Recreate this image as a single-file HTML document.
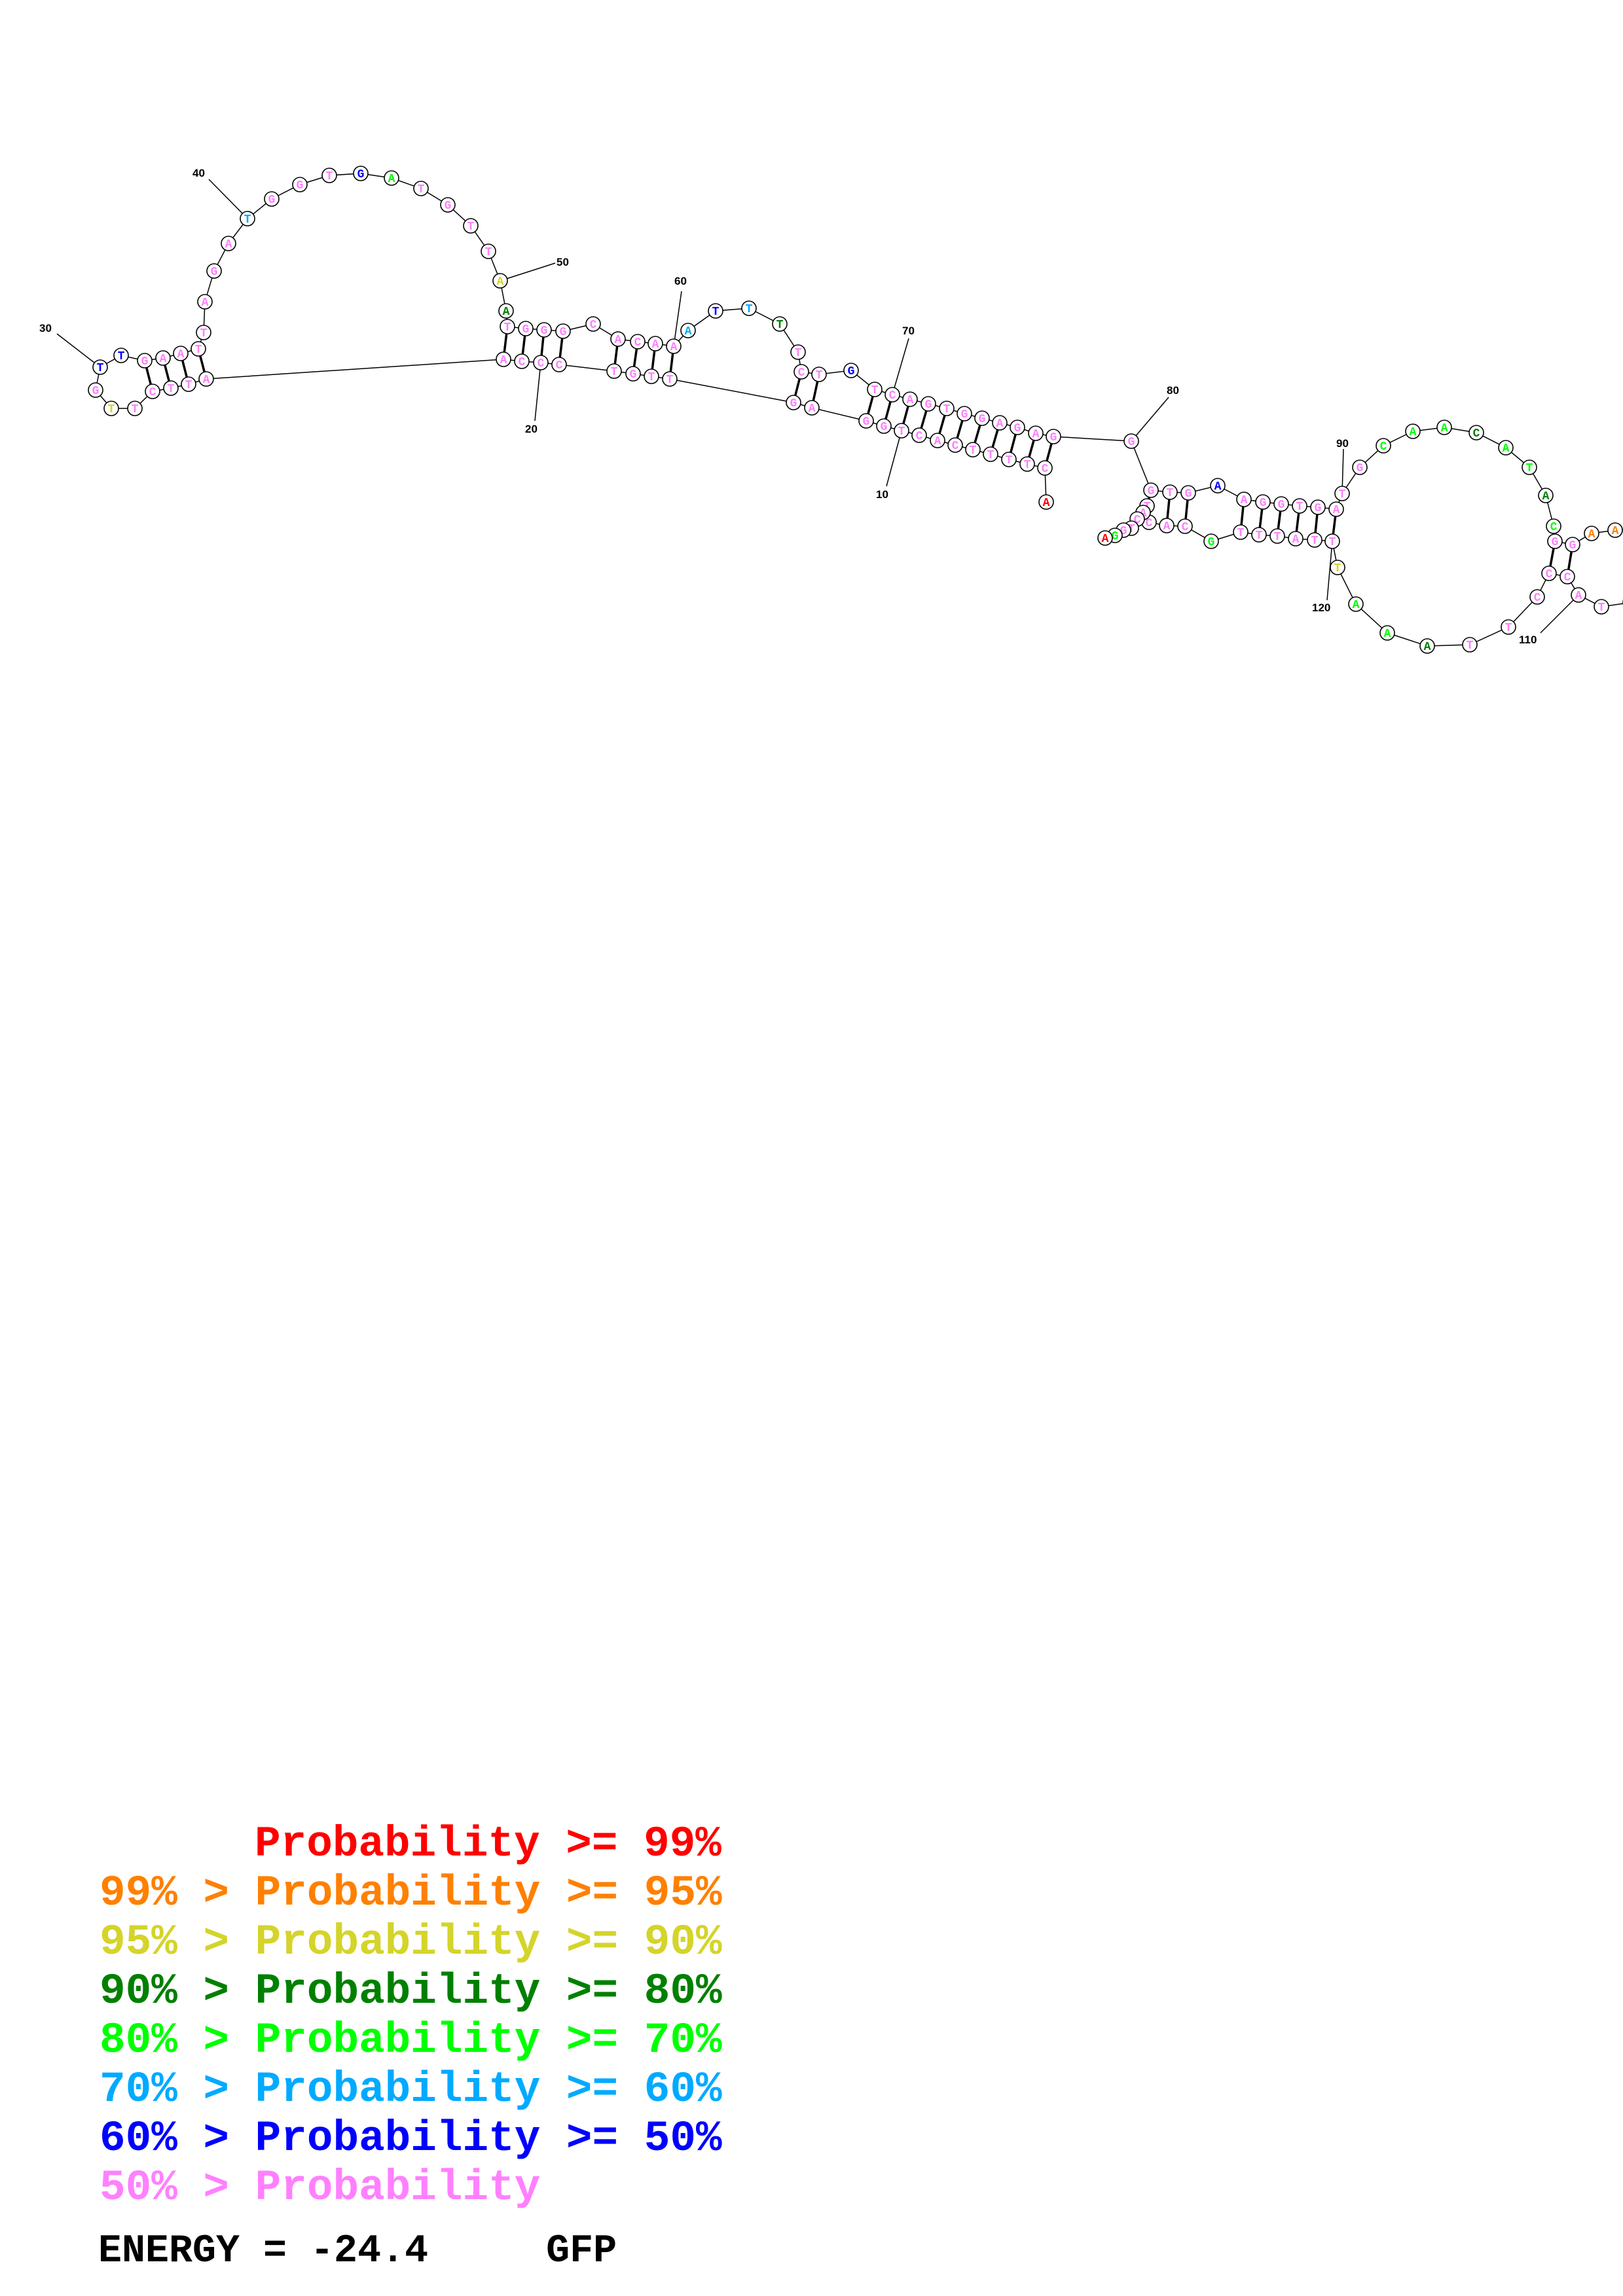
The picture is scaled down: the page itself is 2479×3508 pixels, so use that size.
<!DOCTYPE html>
<html><head><meta charset="utf-8"><style>
html,body{margin:0;padding:0;background:#fff;}
svg{display:block}
.n circle{fill:#fff;stroke:#000;stroke-width:1.6}
.t text{font-family:"Liberation Mono",monospace;font-weight:bold;font-size:18px;text-anchor:middle}
.p{fill:#ff80ff}.r{fill:#ff0000}.o{fill:#ff8000}.y{fill:#d4d42a}.dg{fill:#008000}.lg{fill:#00ff00}.lb{fill:#00aaff}.b{fill:#0000ff}
.lbl{font-family:"Liberation Sans",sans-serif;font-weight:bold;font-size:17px;fill:#000}
.leg{font-family:"Liberation Mono",monospace;font-weight:bold;font-size:66px;white-space:pre}
</style></head><body>
<svg width="2479" height="3508" viewBox="0 0 2479 3508" xmlns="http://www.w3.org/2000/svg">
<g fill="none" stroke="#000" stroke-width="1.5">
<polyline points="1598,767 1596,715 1569,709 1541,702 1513,694 1486,687 1459,680 1432,673 1404,665 1377,658 1350,651 1323,643 1240,623 1212,615 1023,579 995,575 967,571 938,567 854,557 826,554 797,552 769,549 315,579 288,587 261,593 233,598 206,624 170,624 146,596 153,561 185,543 221,551 249,547 276,540 303,533 311,508 313,461 327,414 349,372 378,334 415,304 458,282 503,268 551,265 598,272 643,288 684,313 719,345 746,384 764,429 773,475 775,499 803,502 831,504 860,506 906,495 944,518 974,522 1001,525 1029,529 1051,505 1093,475 1144,471 1191,495 1219,538 1224,568 1251,572 1300,566 1336,595 1363,603 1390,610 1418,617 1446,624 1473,632 1500,639 1527,646 1554,653 1582,662 1609,667 1728,674 1758,749 1787,752 1815,753 1860,742 1900,763 1929,767 1957,770 1985,773 2013,775 2041,778 2050,754 2077,714 2113,681 2158,659 2206,653 2255,661 2300,684 2336,714 2361,757 2373,804 2375,827 2402,832 2431,815 2467,810 2495,808"/>
<polyline points="2495,920 2446,927 2411,909 2394,881 2366,876 2348,912 2304,958 2245,985 2180,987 2119,967 2071,923 2043,867 2035,827 2008,825 1979,823 1951,819 1923,817 1895,813 1850,827 1810,804 1782,803 1755,798 1752,773 1746,783 1737,793 1728,807 1716,810 1703,818 1688,822"/>
<line x1="87" y1="510" x2="153" y2="561"/>
<line x1="319" y1="274" x2="378" y2="334"/>
<line x1="848" y1="402" x2="764" y2="429"/>
<line x1="817" y1="643" x2="826" y2="554"/>
<line x1="1041" y1="445" x2="1029" y2="529"/>
<line x1="1388" y1="517" x2="1363" y2="603"/>
<line x1="1354" y1="743" x2="1377" y2="658"/>
<line x1="1785" y1="607" x2="1728" y2="674"/>
<line x1="2052" y1="686" x2="2050" y2="754"/>
<line x1="2027" y1="917" x2="2035" y2="827"/>
<line x1="2353" y1="967" x2="2411" y2="909"/>
</g>
<g stroke="#000" stroke-width="3.5">
<line x1="1596" y1="715" x2="1609" y2="667"/><line x1="1569" y1="709" x2="1582" y2="662"/>
<line x1="1541" y1="702" x2="1554" y2="653"/><line x1="1513" y1="694" x2="1527" y2="646"/>
<line x1="1486" y1="687" x2="1500" y2="639"/><line x1="1459" y1="680" x2="1473" y2="632"/>
<line x1="1432" y1="673" x2="1446" y2="624"/><line x1="1404" y1="665" x2="1418" y2="617"/>
<line x1="1377" y1="658" x2="1390" y2="610"/><line x1="1350" y1="651" x2="1363" y2="603"/>
<line x1="1323" y1="643" x2="1336" y2="595"/>
<line x1="1240" y1="623" x2="1251" y2="572"/><line x1="1212" y1="615" x2="1224" y2="568"/>
<line x1="1023" y1="579" x2="1029" y2="529"/><line x1="995" y1="575" x2="1001" y2="525"/>
<line x1="967" y1="571" x2="974" y2="522"/><line x1="938" y1="567" x2="944" y2="518"/>
<line x1="854" y1="557" x2="860" y2="506"/><line x1="826" y1="554" x2="831" y2="504"/>
<line x1="797" y1="552" x2="803" y2="502"/><line x1="769" y1="549" x2="775" y2="499"/>
<line x1="315" y1="579" x2="303" y2="533"/><line x1="288" y1="587" x2="276" y2="540"/>
<line x1="261" y1="593" x2="249" y2="547"/><line x1="233" y1="598" x2="221" y2="551"/>
<line x1="1758" y1="749" x2="1752" y2="773"/>
<line x1="1787" y1="752" x2="1782" y2="803"/><line x1="1815" y1="753" x2="1810" y2="804"/>
<line x1="1900" y1="763" x2="1895" y2="813"/><line x1="1929" y1="767" x2="1923" y2="817"/>
<line x1="1957" y1="770" x2="1951" y2="819"/><line x1="1985" y1="773" x2="1979" y2="823"/>
<line x1="2013" y1="775" x2="2008" y2="825"/><line x1="2041" y1="778" x2="2035" y2="827"/>
<line x1="2375" y1="827" x2="2366" y2="876"/><line x1="2402" y1="832" x2="2394" y2="881"/>
</g>
<g class="n">
<circle cx="1598" cy="767" r="11"/><circle cx="1596" cy="715" r="11"/><circle cx="1569" cy="709" r="11"/><circle cx="1541" cy="702" r="11"/><circle cx="1513" cy="694" r="11"/><circle cx="1486" cy="687" r="11"/><circle cx="1459" cy="680" r="11"/><circle cx="1432" cy="673" r="11"/><circle cx="1404" cy="665" r="11"/><circle cx="1377" cy="658" r="11"/><circle cx="1350" cy="651" r="11"/><circle cx="1323" cy="643" r="11"/><circle cx="1240" cy="623" r="11"/><circle cx="1212" cy="615" r="11"/><circle cx="1023" cy="579" r="11"/><circle cx="995" cy="575" r="11"/><circle cx="967" cy="571" r="11"/><circle cx="938" cy="567" r="11"/><circle cx="854" cy="557" r="11"/><circle cx="826" cy="554" r="11"/><circle cx="797" cy="552" r="11"/><circle cx="769" cy="549" r="11"/><circle cx="315" cy="579" r="11"/><circle cx="288" cy="587" r="11"/><circle cx="261" cy="593" r="11"/><circle cx="233" cy="598" r="11"/><circle cx="206" cy="624" r="11"/><circle cx="170" cy="624" r="11"/><circle cx="146" cy="596" r="11"/><circle cx="153" cy="561" r="11"/><circle cx="185" cy="543" r="11"/><circle cx="221" cy="551" r="11"/><circle cx="249" cy="547" r="11"/><circle cx="276" cy="540" r="11"/><circle cx="303" cy="533" r="11"/><circle cx="311" cy="508" r="11"/><circle cx="313" cy="461" r="11"/><circle cx="327" cy="414" r="11"/><circle cx="349" cy="372" r="11"/><circle cx="378" cy="334" r="11"/><circle cx="415" cy="304" r="11"/><circle cx="458" cy="282" r="11"/><circle cx="503" cy="268" r="11"/><circle cx="551" cy="265" r="11"/><circle cx="598" cy="272" r="11"/><circle cx="643" cy="288" r="11"/><circle cx="684" cy="313" r="11"/><circle cx="719" cy="345" r="11"/><circle cx="746" cy="384" r="11"/><circle cx="764" cy="429" r="11"/><circle cx="773" cy="475" r="11"/><circle cx="775" cy="499" r="11"/><circle cx="803" cy="502" r="11"/><circle cx="831" cy="504" r="11"/><circle cx="860" cy="506" r="11"/><circle cx="906" cy="495" r="11"/><circle cx="944" cy="518" r="11"/><circle cx="974" cy="522" r="11"/><circle cx="1001" cy="525" r="11"/><circle cx="1029" cy="529" r="11"/><circle cx="1051" cy="505" r="11"/><circle cx="1093" cy="475" r="11"/><circle cx="1144" cy="471" r="11"/><circle cx="1191" cy="495" r="11"/><circle cx="1219" cy="538" r="11"/><circle cx="1224" cy="568" r="11"/><circle cx="1251" cy="572" r="11"/><circle cx="1300" cy="566" r="11"/><circle cx="1336" cy="595" r="11"/><circle cx="1363" cy="603" r="11"/><circle cx="1390" cy="610" r="11"/><circle cx="1418" cy="617" r="11"/><circle cx="1446" cy="624" r="11"/><circle cx="1473" cy="632" r="11"/><circle cx="1500" cy="639" r="11"/><circle cx="1527" cy="646" r="11"/><circle cx="1554" cy="653" r="11"/><circle cx="1582" cy="662" r="11"/><circle cx="1609" cy="667" r="11"/><circle cx="1728" cy="674" r="11"/><circle cx="1758" cy="749" r="11"/><circle cx="1787" cy="752" r="11"/><circle cx="1815" cy="753" r="11"/><circle cx="1860" cy="742" r="11"/><circle cx="1900" cy="763" r="11"/><circle cx="1929" cy="767" r="11"/><circle cx="1957" cy="770" r="11"/><circle cx="1985" cy="773" r="11"/><circle cx="2013" cy="775" r="11"/><circle cx="2041" cy="778" r="11"/><circle cx="2050" cy="754" r="11"/><circle cx="2077" cy="714" r="11"/><circle cx="2113" cy="681" r="11"/><circle cx="2158" cy="659" r="11"/><circle cx="2206" cy="653" r="11"/><circle cx="2255" cy="661" r="11"/><circle cx="2300" cy="684" r="11"/><circle cx="2336" cy="714" r="11"/><circle cx="2361" cy="757" r="11"/><circle cx="2373" cy="804" r="11"/><circle cx="2375" cy="827" r="11"/><circle cx="2402" cy="832" r="11"/><circle cx="2431" cy="815" r="11"/><circle cx="2467" cy="810" r="11"/>
<circle cx="2490" cy="920" r="11"/><circle cx="2446" cy="927" r="11"/><circle cx="2411" cy="909" r="11"/><circle cx="2394" cy="881" r="11"/><circle cx="2366" cy="876" r="11"/><circle cx="2348" cy="912" r="11"/><circle cx="2304" cy="958" r="11"/><circle cx="2245" cy="985" r="11"/><circle cx="2180" cy="987" r="11"/><circle cx="2119" cy="967" r="11"/><circle cx="2071" cy="923" r="11"/><circle cx="2043" cy="867" r="11"/><circle cx="2035" cy="827" r="11"/><circle cx="2008" cy="825" r="11"/><circle cx="1979" cy="823" r="11"/><circle cx="1951" cy="819" r="11"/><circle cx="1923" cy="817" r="11"/><circle cx="1895" cy="813" r="11"/><circle cx="1850" cy="827" r="11"/><circle cx="1810" cy="804" r="11"/><circle cx="1782" cy="803" r="11"/><circle cx="1755" cy="798" r="11"/>
</g>
<g class="t">
<text x="1598" y="773" class="r">A</text><text x="1596" y="721" class="p">C</text><text x="1569" y="715" class="p">T</text><text x="1541" y="708" class="p">T</text><text x="1513" y="700" class="p">T</text><text x="1486" y="693" class="p">T</text><text x="1459" y="686" class="p">C</text><text x="1432" y="679" class="p">A</text><text x="1404" y="671" class="p">C</text><text x="1377" y="664" class="p">T</text><text x="1350" y="657" class="p">G</text><text x="1323" y="649" class="p">G</text><text x="1240" y="629" class="p">A</text><text x="1212" y="621" class="p">G</text><text x="1023" y="585" class="p">T</text><text x="995" y="581" class="p">T</text><text x="967" y="577" class="p">G</text><text x="938" y="573" class="p">T</text><text x="854" y="563" class="p">C</text><text x="826" y="560" class="p">C</text><text x="797" y="558" class="p">C</text><text x="769" y="555" class="p">A</text><text x="315" y="585" class="p">A</text><text x="288" y="593" class="p">T</text><text x="261" y="599" class="p">T</text><text x="233" y="604" class="p">C</text><text x="206" y="630" class="p">T</text><text x="170" y="630" class="y">T</text><text x="146" y="602" class="p">G</text><text x="153" y="567" class="b">T</text><text x="185" y="549" class="b">T</text><text x="221" y="557" class="p">G</text><text x="249" y="553" class="p">A</text><text x="276" y="546" class="p">A</text><text x="303" y="539" class="p">T</text><text x="311" y="514" class="p">T</text><text x="313" y="467" class="p">A</text><text x="327" y="420" class="p">G</text><text x="349" y="378" class="p">A</text><text x="378" y="340" class="lb">T</text><text x="415" y="310" class="p">G</text><text x="458" y="288" class="p">G</text><text x="503" y="274" class="p">T</text><text x="551" y="271" class="b">G</text><text x="598" y="278" class="lg">A</text><text x="643" y="294" class="p">T</text><text x="684" y="319" class="p">G</text><text x="719" y="351" class="p">T</text><text x="746" y="390" class="p">T</text><text x="764" y="435" class="y">A</text><text x="773" y="481" class="dg">A</text><text x="775" y="505" class="p">T</text><text x="803" y="508" class="p">G</text><text x="831" y="510" class="p">G</text><text x="860" y="512" class="p">G</text><text x="906" y="501" class="p">C</text><text x="944" y="524" class="p">A</text><text x="974" y="528" class="p">C</text><text x="1001" y="531" class="p">A</text><text x="1029" y="535" class="p">A</text><text x="1051" y="511" class="lb">A</text><text x="1093" y="481" class="b">T</text><text x="1144" y="477" class="lb">T</text><text x="1191" y="501" class="dg">T</text><text x="1219" y="544" class="p">T</text><text x="1224" y="574" class="p">C</text><text x="1251" y="578" class="p">T</text><text x="1300" y="572" class="b">G</text><text x="1336" y="601" class="p">T</text><text x="1363" y="609" class="p">C</text><text x="1390" y="616" class="p">A</text><text x="1418" y="623" class="p">G</text><text x="1446" y="630" class="p">T</text><text x="1473" y="638" class="p">G</text><text x="1500" y="645" class="p">G</text><text x="1527" y="652" class="p">A</text><text x="1554" y="659" class="p">G</text><text x="1582" y="668" class="p">A</text><text x="1609" y="673" class="p">G</text><text x="1728" y="680" class="p">G</text><text x="1758" y="755" class="p">G</text><text x="1787" y="758" class="p">T</text><text x="1815" y="759" class="p">G</text><text x="1860" y="748" class="b">A</text><text x="1900" y="769" class="p">A</text><text x="1929" y="773" class="p">G</text><text x="1957" y="776" class="p">G</text><text x="1985" y="779" class="p">T</text><text x="2013" y="781" class="p">G</text><text x="2041" y="784" class="p">A</text><text x="2050" y="760" class="p">T</text><text x="2077" y="720" class="p">G</text><text x="2113" y="687" class="lg">C</text><text x="2158" y="665" class="lg">A</text><text x="2206" y="659" class="lg">A</text><text x="2255" y="667" class="dg">C</text><text x="2300" y="690" class="lg">A</text><text x="2336" y="720" class="lg">T</text><text x="2361" y="763" class="dg">A</text><text x="2373" y="810" class="lg">C</text><text x="2375" y="833" class="p">G</text><text x="2402" y="838" class="p">G</text><text x="2431" y="821" class="o">A</text><text x="2467" y="816" class="o">A</text>
<text x="2490" y="926" class="p">T</text><text x="2446" y="933" class="p">T</text><text x="2411" y="915" class="p">A</text><text x="2394" y="887" class="p">C</text><text x="2366" y="882" class="p">C</text><text x="2348" y="918" class="p">C</text><text x="2304" y="964" class="p">T</text><text x="2245" y="991" class="p">T</text><text x="2180" y="993" class="dg">A</text><text x="2119" y="973" class="lg">A</text><text x="2071" y="929" class="lg">A</text><text x="2043" y="873" class="y">T</text><text x="2035" y="833" class="p">T</text><text x="2008" y="831" class="p">T</text><text x="1979" y="829" class="p">A</text><text x="1951" y="825" class="p">T</text><text x="1923" y="823" class="p">T</text><text x="1895" y="819" class="p">T</text><text x="1850" y="833" class="lg">G</text><text x="1810" y="810" class="p">C</text><text x="1782" y="809" class="p">A</text><text x="1755" y="804" class="p">C</text>
</g>
<g>
<circle cx="1752" cy="773" r="11" fill="#fff" stroke="#000" stroke-width="1.6"/><text x="1752" y="779" class="p" style="font-family:'Liberation Mono',monospace;font-weight:bold;font-size:18px;text-anchor:middle">T</text>
<circle cx="1746" cy="783" r="11" fill="#fff" stroke="#000" stroke-width="1.6"/><text x="1746" y="789" class="p" style="font-family:'Liberation Mono',monospace;font-weight:bold;font-size:18px;text-anchor:middle">A</text>
<circle cx="1737" cy="793" r="11" fill="#fff" stroke="#000" stroke-width="1.6"/><text x="1737" y="799" class="p" style="font-family:'Liberation Mono',monospace;font-weight:bold;font-size:18px;text-anchor:middle">C</text>
<circle cx="1728" cy="807" r="11" fill="#fff" stroke="#000" stroke-width="1.6"/><text x="1728" y="813" class="p" style="font-family:'Liberation Mono',monospace;font-weight:bold;font-size:18px;text-anchor:middle">T</text>
<circle cx="1716" cy="810" r="11" fill="#fff" stroke="#000" stroke-width="1.6"/><text x="1716" y="816" class="p" style="font-family:'Liberation Mono',monospace;font-weight:bold;font-size:18px;text-anchor:middle">G</text>
<circle cx="1703" cy="818" r="11" fill="#fff" stroke="#000" stroke-width="1.6"/><text x="1703" y="824" class="lg" style="font-family:'Liberation Mono',monospace;font-weight:bold;font-size:18px;text-anchor:middle">G</text>
<circle cx="1688" cy="822" r="11" fill="#fff" stroke="#000" stroke-width="1.6"/><text x="1688" y="828" class="r" style="font-family:'Liberation Mono',monospace;font-weight:bold;font-size:18px;text-anchor:middle">A</text>
</g>
<g class="lbl">
<text x="60" y="507">30</text>
<text x="294" y="270">40</text>
<text x="850" y="406">50</text>
<text x="802" y="661">20</text>
<text x="1030" y="435">60</text>
<text x="1378" y="511">70</text>
<text x="1338" y="761">10</text>
<text x="1782" y="602">80</text>
<text x="2041" y="683">90</text>
<text x="2004" y="934">120</text>
<text x="2320" y="983">110</text>
</g>
<g class="leg">
<text x="389" y="2835" fill="#ff0000">Probability &gt;= 99%</text>
<text x="152" y="2910" fill="#ff8000">99% &gt; Probability &gt;= 95%</text>
<text x="152" y="2985" fill="#d4d42a">95% &gt; Probability &gt;= 90%</text>
<text x="152" y="3060" fill="#008000">90% &gt; Probability &gt;= 80%</text>
<text x="152" y="3135" fill="#00ff00">80% &gt; Probability &gt;= 70%</text>
<text x="152" y="3210" fill="#00aaff">70% &gt; Probability &gt;= 60%</text>
<text x="152" y="3285" fill="#0000ff">60% &gt; Probability &gt;= 50%</text>
<text x="152" y="3360" fill="#ff80ff">50% &gt; Probability</text>
<text x="150" y="3455" fill="#000" font-size="60" xml:space="preserve">ENERGY = -24.4     GFP</text>
</g>
</svg>
</body></html>
